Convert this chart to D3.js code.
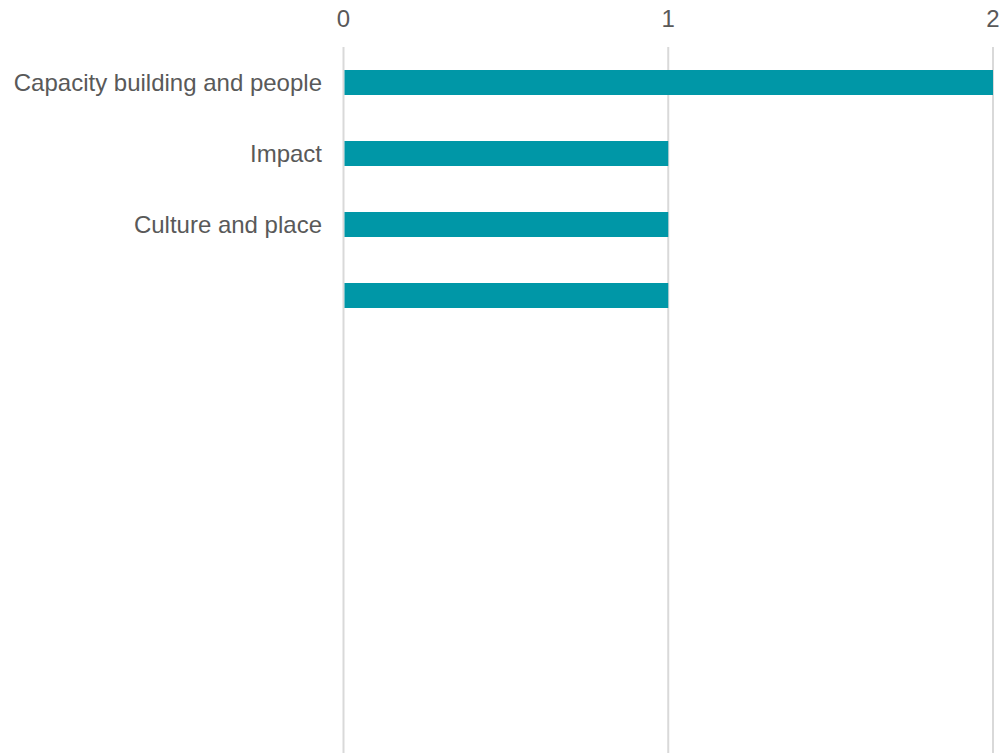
<!DOCTYPE html>
<html>
<head>
<meta charset="utf-8">
<script src="https://cdn.jsdelivr.net/npm/d3@7"></script>
<style>
  body { margin: 0; background: #fff; }
  text { font-family: 'Liberation Sans', Arial, sans-serif; fill: #595959; }
</style>
</head>
<body>
<svg id="bar" width="1001" height="753"></svg>
<script>
const categories = ['Capacity building and people', 'Impact', 'Culture and place', ''];
const values = [2, 1, 1, 1];
const tickValues = [0, 1, 2];

const svg = d3.select('#bar');
const width = +svg.attr('width');
const height = +svg.attr('height');
const padding = { top: 47, left: 343.5, right: 8 };

const xScale = d3
  .scaleLinear()
  .domain([0, 2])
  .range([padding.left, width - padding.right]);

const yScale = d3
  .scaleBand()
  .domain(d3.range(categories.length))
  .range([padding.top, padding.top + 71 * categories.length])
  .paddingInner(0.648)
  .paddingOuter(0.324);

// gridlines
svg
  .append('g')
  .selectAll('line')
  .data(tickValues)
  .enter()
  .append('line')
  .attr('x1', d => xScale(d))
  .attr('x2', d => xScale(d))
  .attr('y1', padding.top)
  .attr('y2', height)
  .attr('stroke', '#d9d9d9')
  .attr('stroke-width', 2);

// top tick labels
svg
  .append('g')
  .selectAll('text')
  .data(tickValues)
  .enter()
  .append('text')
  .attr('x', d => xScale(d))
  .attr('y', 27)
  .attr('text-anchor', 'middle')
  .style('font-size', '24px')
  .text(d => d);

// bars
svg
  .append('g')
  .selectAll('rect')
  .data(values)
  .enter()
  .append('rect')
  .attr('x', xScale(0) + 1)
  .attr('y', (d, i) => yScale(i))
  .attr('width', d => xScale(d) - xScale(0) - 1)
  .attr('height', yScale.bandwidth())
  .attr('fill', '#0097a7');

// category labels
svg
  .append('g')
  .selectAll('text')
  .data(categories)
  .enter()
  .append('text')
  .attr('x', 322)
  .attr('y', (d, i) => yScale(i) + yScale.bandwidth() / 2)
  .attr('dy', '0.35em')
  .attr('text-anchor', 'end')
  .style('font-size', '24px')
  .text(d => d);
</script>
</body>
</html>
